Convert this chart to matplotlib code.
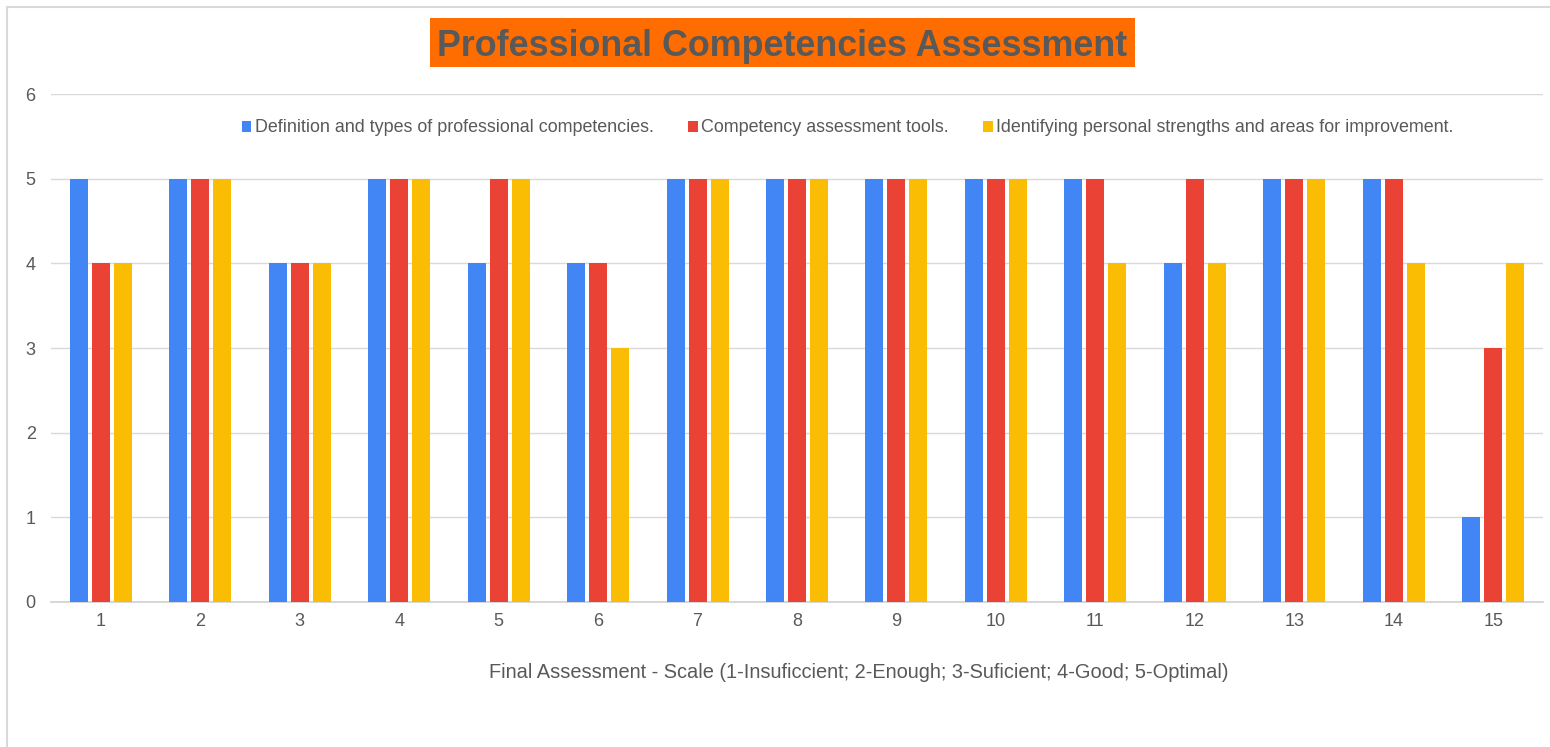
import matplotlib
matplotlib.use('Agg')
import matplotlib.pyplot as plt
import numpy as np
from matplotlib.patches import Rectangle

plt.rcParams['font.family'] = ['Liberation Sans', 'DejaVu Sans']

# data
students = list(range(1, 16))
definition = [5, 5, 4, 5, 4, 4, 5, 5, 5, 5, 5, 4, 5, 5, 1]
tools = [4, 5, 4, 5, 5, 4, 5, 5, 5, 5, 5, 5, 5, 5, 3]
strengths = [4, 5, 4, 5, 5, 3, 5, 5, 5, 5, 4, 4, 5, 4, 4]
series_names = ['Definition and types of professional competencies.',
                'Competency assessment tools.',
                'Identifying personal strengths and areas for improvement.']
colors = ['#4285F4', '#EA4335', '#FBBC04']
grey = '#595959'

W, H = 1550, 747
fig = plt.figure(figsize=(W / 100, H / 100), dpi=100)
ax = fig.add_axes([51 / W, 1 - 602 / H, 1492 / W, 508 / H])

x = np.array(students)
w = 0.181
step = 0.221
for i, (vals, name, c) in enumerate(zip([definition, tools, strengths], series_names, colors)):
    ax.bar(x + (i - 1) * step, vals, width=w, color=c, label=name, zorder=3)

ax.set_xlim(0.5, 15.5)
ax.set_ylim(0, 6)
ax.set_xticks(x)
ax.set_xticklabels([str(s) for s in students])
ax.set_yticks(range(0, 7))
ax.grid(axis='y', color='#d9d9d9', linewidth=1, zorder=0)
for s in ['top', 'right', 'left']:
    ax.spines[s].set_visible(False)
ax.spines['bottom'].set_color('#d0d0d0')
ax.spines['bottom'].set_linewidth(1.2)
ax.tick_params(axis='both', length=0, labelsize=13, labelcolor=grey)
ax.tick_params(axis='x', pad=8)
ax.tick_params(axis='y', pad=11)

leg = ax.legend(loc='center', bbox_to_anchor=(0.534, 1 - 34 / 508), ncol=3, frameon=False,
                fontsize=12.9, handlelength=0.55, handleheight=0.55, handletextpad=0.2,
                columnspacing=1.9, labelcolor=grey)

# title with orange box
fig.patches.append(Rectangle((430 / W, 1 - 67 / H), 705 / W, 49 / H, transform=fig.transFigure,
                             facecolor='#FF6D01', edgecolor='none', zorder=1))
fig.text(782.5 / W, 1 - 55.5 / H, 'Professional Competencies Assessment', ha='center', va='baseline',
         fontsize=25.8, fontweight='bold', color=grey, zorder=2)

fig.text(859 / W, 1 - 678 / H, 'Final Assessment - Scale (1-Insuficcient; 2-Enough; 3-Suficient; 4-Good; 5-Optimal)',
         ha='center', va='baseline', fontsize=14.4, color=grey)

# outer frame
fig.patches.append(Rectangle((7 / W, -0.1), 1.2, 1 - 7 / H + 0.1, transform=fig.transFigure,
                             fill=False, edgecolor='#d9d9d9', linewidth=1.5))

fig.savefig('out.png', dpi=100)
